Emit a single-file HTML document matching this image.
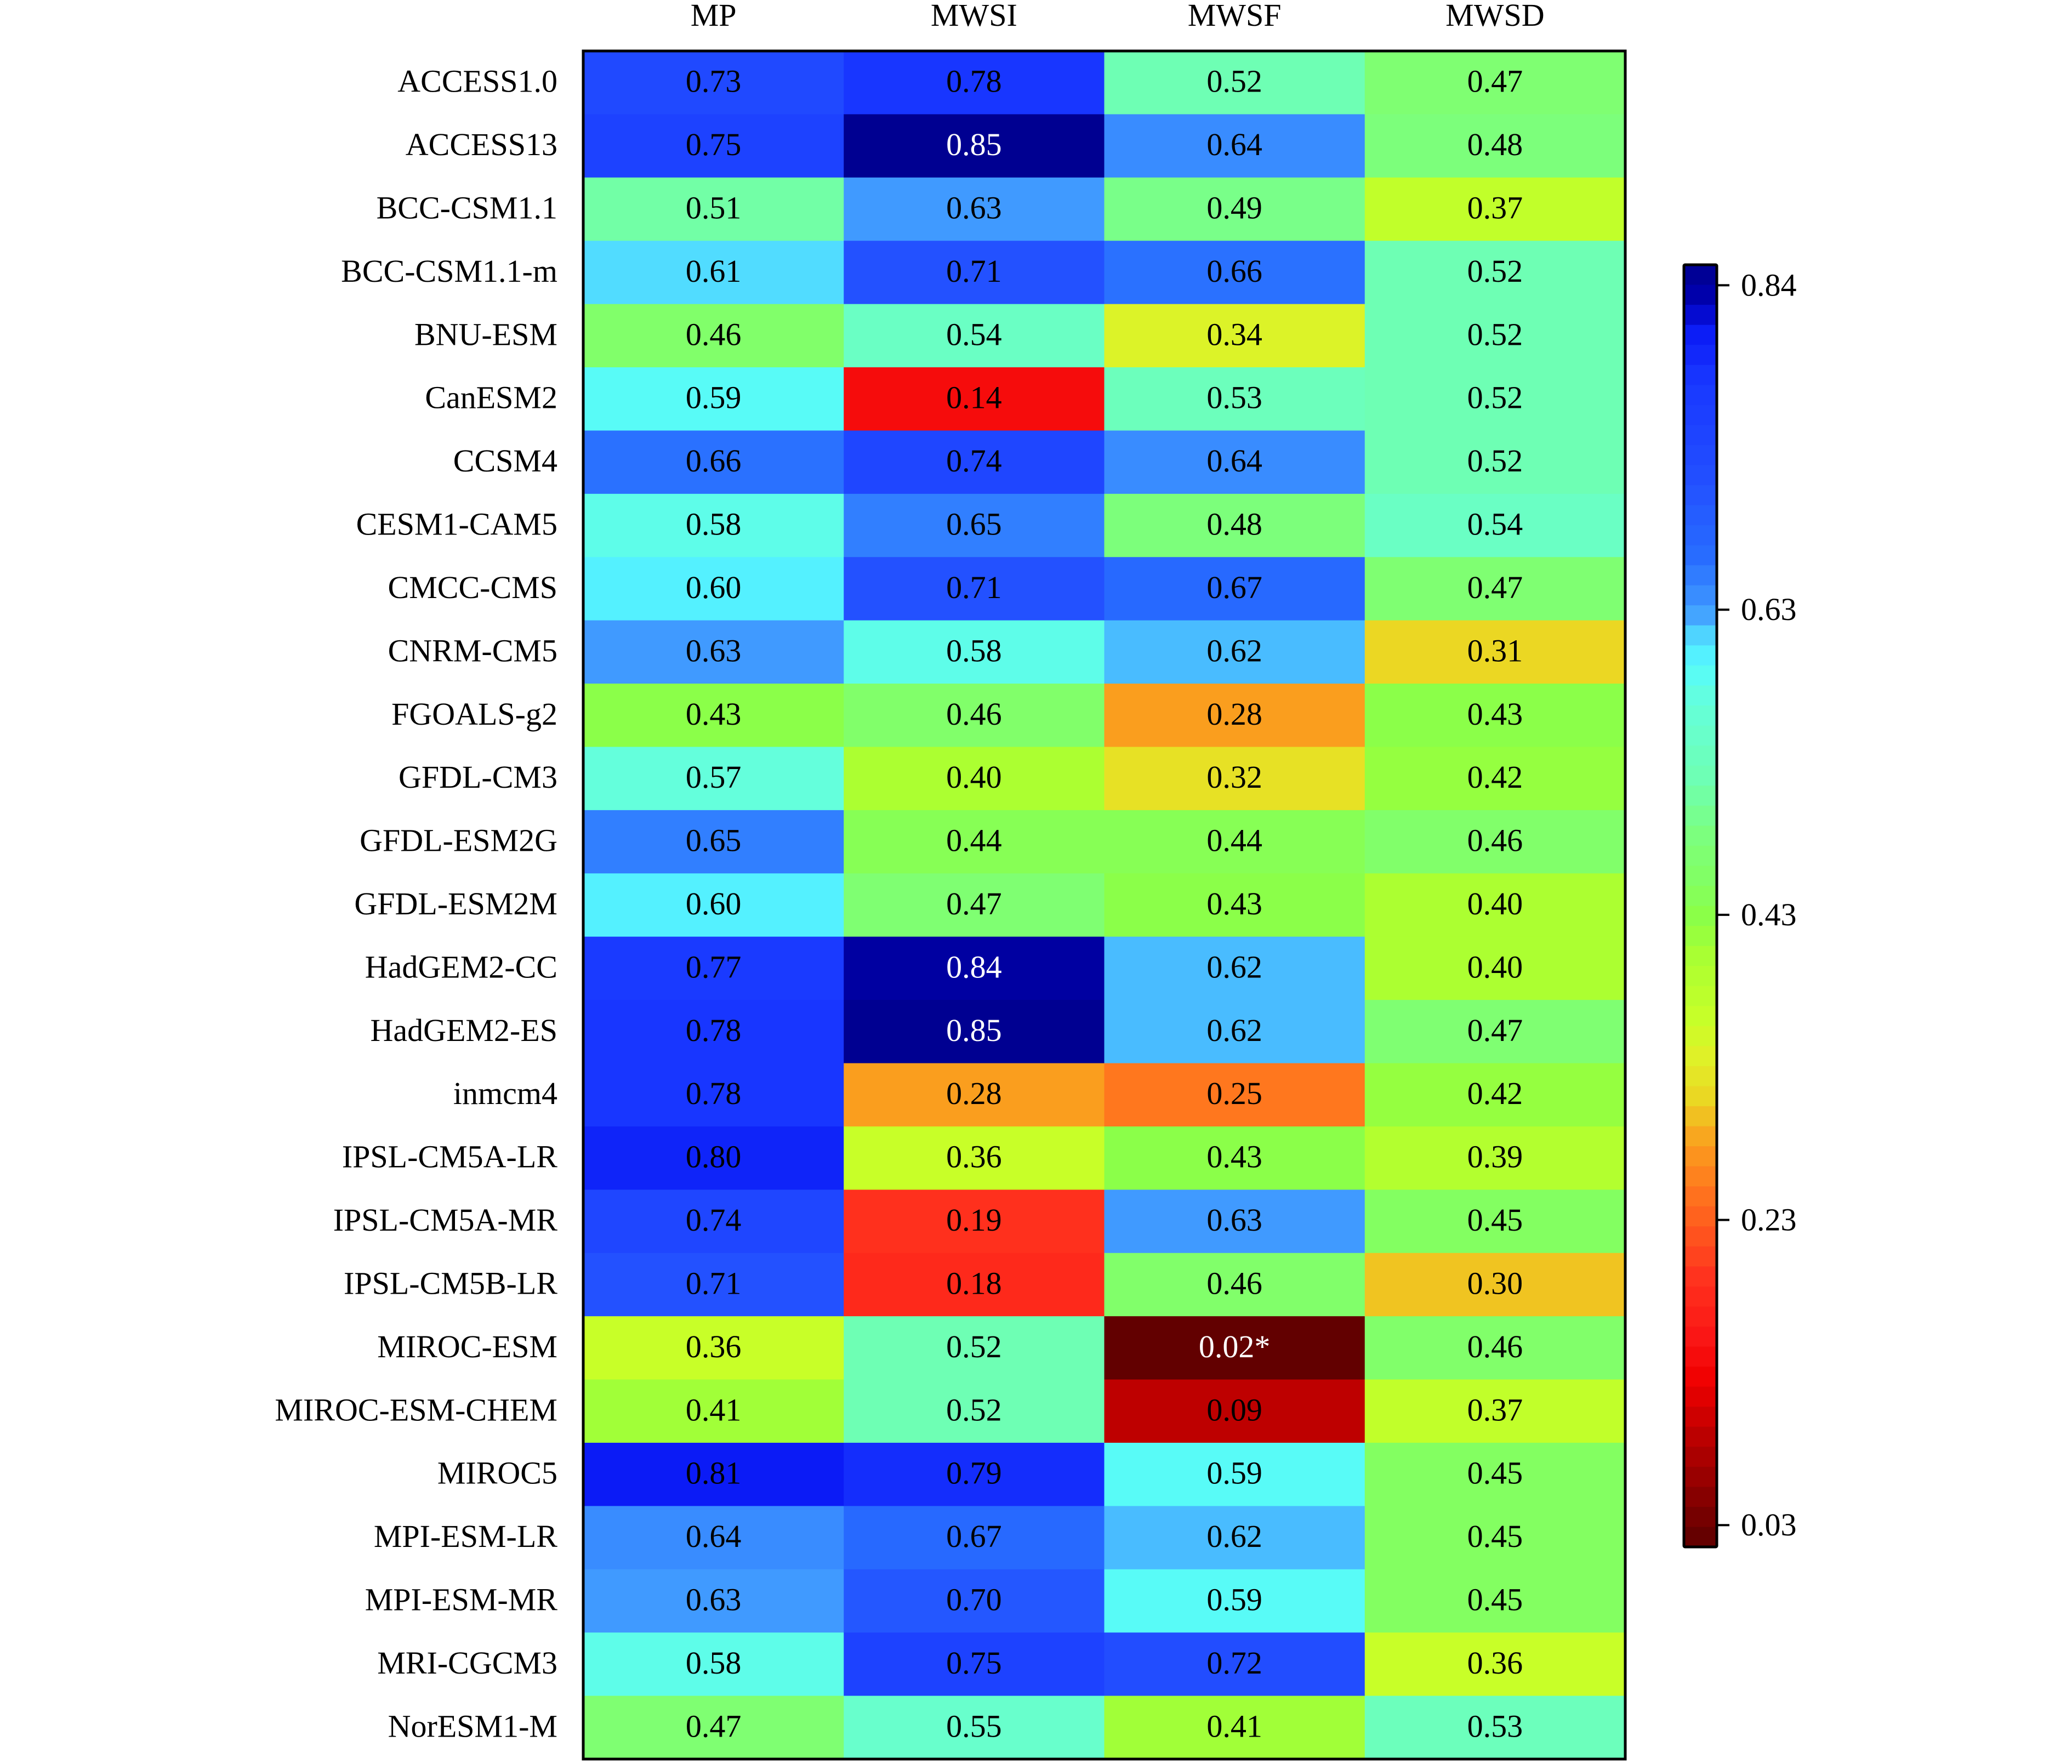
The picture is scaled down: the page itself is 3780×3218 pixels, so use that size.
<!DOCTYPE html>
<html><head><meta charset="utf-8"><style>
html,body{margin:0;padding:0;background:#fff;}
svg{display:block;font-family:"Liberation Serif",serif;}
</style></head><body>
<svg id="chart" width="3780" height="3218" viewBox="0 0 3780 3218" xmlns="http://www.w3.org/2000/svg" font-family="Liberation Serif, serif"></svg>
<script>
const models = ["ACCESS1.0","ACCESS13","BCC-CSM1.1","BCC-CSM1.1-m","BNU-ESM","CanESM2","CCSM4","CESM1-CAM5","CMCC-CMS","CNRM-CM5","FGOALS-g2","GFDL-CM3","GFDL-ESM2G","GFDL-ESM2M","HadGEM2-CC","HadGEM2-ES","inmcm4","IPSL-CM5A-LR","IPSL-CM5A-MR","IPSL-CM5B-LR","MIROC-ESM","MIROC-ESM-CHEM","MIROC5","MPI-ESM-LR","MPI-ESM-MR","MRI-CGCM3","NorESM1-M"];
const metrics = ["MP","MWSI","MWSF","MWSD"];
const MP   = [0.73,0.75,0.51,0.61,0.46,0.59,0.66,0.58,0.60,0.63,0.43,0.57,0.65,0.60,0.77,0.78,0.78,0.80,0.74,0.71,0.36,0.41,0.81,0.64,0.63,0.58,0.47];
const MWSI = [0.78,0.85,0.63,0.71,0.54,0.14,0.74,0.65,0.71,0.58,0.46,0.40,0.44,0.47,0.84,0.85,0.28,0.36,0.19,0.18,0.52,0.52,0.79,0.67,0.70,0.75,0.55];
const MWSF = [0.52,0.64,0.49,0.66,0.34,0.53,0.64,0.48,0.67,0.62,0.28,0.32,0.44,0.43,0.62,0.62,0.25,0.43,0.63,0.46,0.02,0.09,0.59,0.62,0.59,0.72,0.41];
const MWSD = [0.47,0.48,0.37,0.52,0.52,0.52,0.52,0.54,0.47,0.31,0.43,0.42,0.46,0.40,0.40,0.47,0.42,0.39,0.45,0.30,0.46,0.37,0.45,0.45,0.45,0.36,0.53];
const cbTicks = [0.84,0.63,0.43,0.23,0.03];
const cbTickPos = [0.016,0.269,0.507,0.745,0.983];
const series = [MP,MWSI,MWSF,MWSD];
const starred = {"20,2":"*"};

const NS="http://www.w3.org/2000/svg";
const svg=document.getElementById('chart');
function mk(tag,attrs,parent){const e=document.createElementNS(NS,tag);for(const k in attrs)e.setAttribute(k,attrs[k]);(parent||svg).appendChild(e);return e;}

const stops=[[0,[0,0,140]],[0.03,[0,0,180]],[0.05,[10,25,245]],[0.09,[25,55,255]],[0.17,[35,80,255]],[0.23,[40,110,255]],[0.27,[65,155,255]],[0.29,[80,215,255]],[0.31,[85,250,255]],[0.34,[100,255,220]],[0.40,[110,255,180]],[0.45,[125,255,120]],[0.48,[130,255,100]],[0.51,[140,255,70]],[0.54,[170,255,50]],[0.59,[200,255,40]],[0.62,[225,240,40]],[0.65,[235,215,35]],[0.684,[250,160,30]],[0.72,[255,120,30]],[0.79,[255,50,30]],[0.84,[250,20,20]],[0.87,[240,0,0]],[0.91,[192,0,0]],[1,[92,0,0]]];
function cmap(p){p=Math.max(0,Math.min(1,p));for(let i=1;i<stops.length;i++){if(p<=stops[i][0]){const a=stops[i-1],b=stops[i];const f=(p-a[0])/(b[0]-a[0]);return a[1].map((c,j)=>Math.round(c+(b[1][j]-c)*f));}}return stops[stops.length-1][1];}
function valToP(v){
  if(v>=cbTicks[0]){return cbTickPos[0]-(v-cbTicks[0])/(cbTicks[0]-cbTicks[1])*(cbTickPos[1]-cbTickPos[0]);}
  for(let i=1;i<cbTicks.length;i++){if(v>=cbTicks[i]){const f=(cbTicks[i-1]-v)/(cbTicks[i-1]-cbTicks[i]);return cbTickPos[i-1]+f*(cbTickPos[i]-cbTickPos[i-1]);}}
  const n=cbTicks.length;return cbTickPos[n-1]+(cbTicks[n-1]-v)/(cbTicks[n-2]-cbTicks[n-1])*(cbTickPos[n-1]-cbTickPos[n-2]);
}
const gx0=1064,gx1=2965,gy0=93,gy1=3209;
const cw=(gx1-gx0)/metrics.length, rh=(gy1-gy0)/models.length;
const xPos=j=>gx0+j*cw, yPos=i=>gy0+i*rh;

const gCells=mk('g',{});


series.forEach((col,j)=>{col.forEach((v,i)=>{
  const c=cmap(valToP(v));
  const r=mk('rect',{x:xPos(j),y:yPos(i),width:cw+0.6,height:rh+0.6,fill:`rgb(${c[0]},${c[1]},${c[2]})`},gCells);
  
  
  const lum=0.299*c[0]+0.587*c[1]+0.114*c[2];
  const t=mk('text',{x:xPos(j)+cw/2,y:yPos(i)+rh/2+17,'text-anchor':'middle','font-size':58,fill:lum<35?'#fff':'#000'},gCells);
  
  
  t.textContent=v.toFixed(2)+(starred[i+','+j]||'');
});});
const border=mk('rect',{x:gx0,y:gy0,width:gx1-gx0,height:gy1-gy0,fill:'none',stroke:'#000','stroke-width':5});



metrics.forEach((m,j)=>{
  const t=mk('text',{x:xPos(j)+cw/2,y:47,'text-anchor':'middle','font-size':58});
  
  
  t.textContent=m;
});
models.forEach((m,i)=>{
  const t=mk('text',{x:1017,y:yPos(i)+rh/2+17,'text-anchor':'end','font-size':58});
  
  
  t.textContent=m;
});

const cbx=3072,cbw=60,cby0=483,cby1=2822,nb=64;
const gCb=mk('g',{});


const bh=(cby1-cby0)/nb;
for(let k=0;k<nb;k++){
  const c=cmap((k+0.5)/nb);
  const r=mk('rect',{x:cbx,y:cby0+k*bh,width:cbw,height:bh+0.5,fill:`rgb(${c[0]},${c[1]},${c[2]})`},gCb);
  
  
}
const cbb=mk('rect',{x:cbx,y:cby0,width:cbw,height:cby1-cby0,fill:'none',stroke:'#000','stroke-width':5,rx:2},gCb);


cbTicks.forEach((v,k)=>{
  const y=cby0+cbTickPos[k]*(cby1-cby0);
  const l=mk('line',{x1:cbx+cbw,x2:cbx+cbw+23,y1:y,y2:y,stroke:'#000','stroke-width':4},gCb);
  
  
  const t=mk('text',{x:3176,y:y+19,'font-size':58},gCb);
  
  
  t.textContent=v.toFixed(2);
});
</script>
</body></html>
